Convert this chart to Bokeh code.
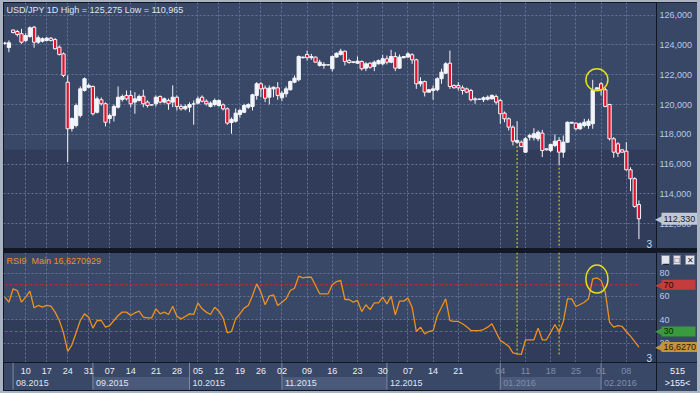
import numpy as np
from bokeh.plotting import figure
from bokeh.models import Range1d, FixedTicker, Label, BoxAnnotation, ColumnDataSource
from bokeh.layouts import column
from bokeh.embed import file_html
from bokeh.resources import INLINE
from bokeh.core.properties import value

FONT = "Liberation Sans"

# ---------------- data ----------------
symbol = "USD/JPY"
timeframe = "1D"
rsi_period = 9

open_ = [124.13, 123.83, 125.00, 124.90, 124.75, 124.30, 124.56, 125.19, 124.18, 124.25,
         124.30, 124.45, 124.36, 123.85, 123.40, 121.50, 118.39, 118.59, 119.26, 120.94,
         121.16, 121.21, 119.48, 120.32, 120.05, 119.06, 119.26, 119.82, 120.34, 120.61,
         120.61, 120.16, 120.27, 120.56, 120.16, 119.98, 120.05, 120.54, 120.16, 120.27,
         120.16, 120.49, 119.87, 119.71, 119.82, 120.04, 120.09, 120.49, 120.22, 119.87,
         120.00, 119.93, 119.98, 119.71, 118.79, 118.88, 119.33, 119.48, 119.82, 119.87,
         120.61, 121.39, 121.10, 120.49, 121.05, 121.12, 120.45, 120.72, 120.99, 121.50,
         121.66, 123.14, 123.36, 123.14, 123.18, 122.62, 122.62, 122.67, 122.40, 123.18,
         123.36, 123.58, 122.95, 122.87, 122.77, 122.89, 122.44, 122.77, 122.55, 122.73,
         122.73, 123.07, 122.84, 123.22, 122.44, 123.14, 123.18, 123.34, 123.00, 121.39,
         121.54, 120.83, 120.94, 120.99, 121.73, 122.10, 122.77, 121.28, 121.28, 121.12,
         121.05, 120.94, 120.38, 120.36, 120.32, 120.36, 120.38, 120.54, 120.27, 119.42,
         119.04, 118.48, 117.47, 117.47, 116.80, 117.81, 117.77, 117.70, 118.08, 117.03,
         116.91, 117.25, 117.59, 116.80, 117.47, 118.75, 118.75, 118.37, 118.59, 118.59,
         118.71, 121.03, 121.39, 120.99, 120.00, 117.70, 117.36, 116.96, 116.87, 115.62,
         115.02, 113.29]

high = [124.20, 124.30, 125.03, 125.01, 125.08, 124.79, 125.24, 125.275, 124.63, 124.50,
        124.53, 124.53, 124.46, 123.96, 123.49, 121.95, 119.13, 120.07, 121.21, 121.81,
        121.41, 121.28, 120.54, 120.47, 120.14, 119.40, 120.00, 121.21, 120.67, 120.94,
        120.94, 120.83, 120.67, 120.99, 120.27, 120.00, 120.61, 120.61, 120.47, 120.40,
        121.28, 120.61, 120.00, 120.00, 120.14, 120.27, 120.54, 120.61, 120.34, 120.20,
        120.40, 120.34, 120.07, 119.80, 119.13, 119.73, 119.71, 120.05, 120.09, 120.72,
        121.50, 121.50, 121.28, 121.28, 121.21, 121.50, 120.89, 121.21, 121.61, 121.95,
        123.29, 123.22, 123.62, 123.40, 123.22, 123.00, 122.84, 122.69, 123.29, 123.49,
        123.74, 123.62, 123.07, 122.89, 123.22, 122.95, 122.84, 122.84, 122.95, 123.02,
        123.34, 123.29, 123.67, 123.51, 123.36, 123.26, 123.51, 123.44, 123.07, 121.83,
        121.61, 121.05, 121.28, 121.83, 122.40, 122.84, 123.62, 121.34, 121.50, 121.28,
        121.14, 121.05, 120.49, 120.40, 120.54, 120.61, 120.67, 120.67, 120.38, 119.53,
        119.13, 118.59, 118.88, 117.59, 117.81, 118.04, 118.41, 118.26, 118.30, 117.05,
        117.36, 117.99, 117.81, 117.92, 118.86, 118.83, 118.79, 118.81, 119.04, 119.04,
        121.66, 121.14, 121.50, 121.12, 120.05, 117.81, 117.47, 117.00, 117.47, 115.79,
        115.12, 113.56]

low = [124.03, 123.51, 124.77, 124.56, 124.07, 124.18, 124.48, 123.81, 124.07, 124.16,
       124.23, 124.23, 123.69, 123.29, 121.83, 116.13, 118.19, 118.46, 119.13, 120.87,
       121.08, 119.26, 119.40, 119.93, 118.53, 118.73, 118.86, 119.73, 120.20, 120.27,
       119.82, 119.38, 120.20, 119.82, 119.80, 119.93, 119.87, 120.07, 120.07, 119.65,
       119.82, 119.60, 119.60, 119.60, 119.48, 118.64, 120.00, 120.14, 119.93, 119.80,
       119.87, 119.87, 119.60, 118.64, 118.04, 118.79, 119.11, 119.42, 119.71, 119.60,
       120.32, 120.49, 120.16, 120.00, 120.49, 120.32, 120.22, 120.49, 120.94, 121.43,
       121.56, 123.09, 122.95, 123.00, 122.82, 122.55, 122.40, 122.62, 122.22, 123.16,
       123.29, 122.62, 122.73, 122.77, 122.73, 122.28, 122.24, 122.40, 122.24, 122.69,
       122.62, 122.69, 122.77, 122.24, 122.40, 123.09, 123.14, 122.73, 121.05, 121.21,
       120.54, 120.79, 120.32, 120.89, 121.39, 122.06, 121.05, 121.08, 120.94, 120.67,
       120.76, 120.22, 120.05, 120.30, 120.16, 120.27, 120.34, 120.00, 118.71, 118.81,
       118.26, 117.25, 117.36, 117.14, 116.76, 117.59, 117.59, 117.54, 116.47, 116.91,
       116.80, 117.14, 115.91, 116.43, 117.45, 118.73, 118.26, 118.30, 118.46, 118.37,
       118.37, 121.01, 120.61, 119.82, 117.59, 116.43, 116.47, 116.78, 115.57, 114.18,
       113.07, 110.965]

close = [124.09, 124.14, 124.83, 124.70, 124.18, 124.63, 125.15, 124.18, 124.48, 124.41,
         124.45, 124.30, 123.74, 123.36, 121.95, 118.37, 119.06, 119.93, 121.05, 121.73,
         121.28, 119.38, 120.38, 120.05, 118.81, 119.26, 119.87, 120.49, 120.54, 120.38,
         120.05, 120.38, 120.54, 120.05, 119.93, 119.97, 120.49, 120.16, 120.38, 120.05,
         120.49, 119.87, 119.71, 119.87, 120.00, 120.03, 120.38, 120.22, 120.05, 120.09,
         120.27, 120.27, 119.71, 118.75, 119.00, 119.42, 119.60, 119.93, 120.00, 120.65,
         121.39, 121.05, 120.42, 121.10, 121.16, 120.61, 120.76, 121.05, 121.54, 121.77,
         123.22, 123.18, 123.14, 123.22, 122.84, 122.84, 122.69, 122.65, 123.22, 123.44,
         123.58, 122.89, 122.82, 122.82, 122.91, 122.40, 122.73, 122.50, 122.84, 122.95,
         123.07, 122.84, 123.22, 122.44, 123.18, 123.22, 123.40, 123.00, 121.39, 121.54,
         120.83, 120.99, 121.05, 121.73, 122.17, 122.73, 121.21, 121.12, 121.12, 120.94,
         120.83, 120.32, 120.32, 120.35, 120.45, 120.49, 120.61, 120.16, 119.38, 119.04,
         118.48, 117.54, 117.59, 117.18, 117.70, 117.92, 118.04, 118.14, 116.91, 116.96,
         117.32, 117.54, 116.80, 117.47, 118.81, 118.81, 118.37, 118.71, 118.81, 118.88,
         120.94, 121.12, 120.99, 119.87, 117.70, 116.80, 116.73, 116.80, 115.62, 115.02,
         113.16, 112.33]

rsi = [59.4, 55.1, 66.6, 65.1, 55.1, 59.4, 64.5, 50.3, 52.3, 50.8,
       52.3, 51.7, 46.6, 39.4, 28.9, 12.9, 18.6, 28.9, 39.4, 45.1,
       42.3, 32.9, 39.4, 39.4, 33.7, 35.1, 39.4, 43.7, 46.6, 46.6,
       43.7, 46.0, 47.4, 42.3, 41.7, 41.7, 49.4, 45.1, 46.6, 44.6,
       51.7, 43.1, 40.8, 42.8, 45.1, 44.6, 54.5, 49.4, 46.6, 44.6,
       50.8, 47.4, 41.7, 28.9, 30.0, 41.0, 45.0, 50.0, 52.3, 60.8,
       70.8, 63.7, 52.9, 60.3, 61.4, 52.3, 55.1, 58.0, 65.1, 67.1,
       77.4, 76.0, 76.5, 76.5, 69.4, 62.3, 62.3, 62.3, 70.0, 72.8,
       73.7, 57.4, 57.4, 55.1, 56.6, 47.1, 52.9, 48.8, 54.5, 54.5,
       59.4, 53.7, 60.3, 44.3, 56.0, 56.0, 58.6, 50.8, 30.0, 33.7,
       28.0, 30.0, 30.8, 43.7, 50.8, 58.0, 39.4, 38.6, 38.6, 36.6,
       34.0, 30.8, 30.8, 30.8, 31.7, 33.7, 36.6, 29.4, 22.3, 20.0,
       17.4, 11.7, 10.9, 10.3, 22.9, 22.9, 22.9, 32.9, 22.9, 22.9,
       29.4, 36.0, 29.4, 38.6, 58.0, 58.0, 51.4, 53.1, 55.1, 58.0,
       75.1, 76.0, 73.7, 63.7, 38.0, 33.7, 35.1, 34.3, 30.0, 26.0,
       21.4, 16.6270929]

price_ticks = [112, 114, 116, 118, 120, 122, 124, 126]
rsi_ticks = [20, 40, 60, 80]
rsi_levels = [70, 30]
day_idx = [5, 10, 15, 20, 25, 30, 36, 41, 46, 51, 56, 61, 66, 72, 78, 84, 90, 96,
           102, 108, 118, 124, 130, 136, 142, 148]
day_labels = ["10", "17", "24", "31", "07", "14", "21", "28", "05", "12", "19", "26",
              "02", "09", "16", "23", "30", "07", "14", "21", "04", "11", "18", "25",
              "01", "08"]
month_start = [2, 21, 44, 66, 91, 118, 142]
month_labels = ["08.2015", "09.2015", "10.2015", "11.2015", "12.2015", "01.2016", "02.2016"]
marked_lows = [122, 132]
circled_bar = 141
bars_total = 515
bars_visible = 155

# ---------------- styling / layout ----------------
BG = "#3a4868"
BG_DARK = "#303c59"
PANEL = "#394766"
EDGE = "#111722"
GRID = "#63749a"
AX_TXT = "#b6c9e6"
WHITE = "#f2f5fa"
RED = "#e3112c"
ORANGE = "#ee911e"
YELLOW = "#e4e01a"

N = len(close)
xs = list(range(N))
XR = Range1d(-0.286, 164.95)   # 4.2 px per bar over a 694 px frame
PANEL_X = 155.19               # where the price-scale column starts


def fmt(v, d=3):
    return f"{v:.{d}f}".replace(".", ",")


def make_fig(h, yr):
    f = figure(width=694, height=h, x_range=XR, y_range=yr, output_backend="svg",
               toolbar_location=None, x_axis_location=None, y_axis_location=None,
               min_border=0, background_fill_color=BG, border_fill_color=PANEL,
               outline_line_color=EDGE, outline_line_width=1)
    f.xgrid.ticker = FixedTicker(ticks=day_idx)
    for g in (f.xgrid, f.ygrid):
        g.grid_line_color = GRID
        g.grid_line_dash = "2 2"
        g.grid_line_width = 1
    return f


def scale_column(f, ticks, labels):
    yr = f.y_range
    f.quad(left=PANEL_X, right=XR.end, bottom=yr.start, top=yr.end,
           fill_color=PANEL, line_color=None)
    f.segment(x0=PANEL_X, x1=PANEL_X, y0=yr.start, y1=yr.end, line_color=EDGE, line_width=1)
    f.text(x=[PANEL_X] * len(ticks), y=ticks, text=labels, x_offset=3,
           text_font=value(FONT), text_font_size="9px", text_color=AX_TXT,
           text_align="left", text_baseline="middle")


def tag(f, yv, text, bg, fg, pad_right=14, pad_v=2):
    f.add_layout(Label(x=PANEL_X, y=yv, x_offset=-2, text="\u25c0", text_font_size="9px",
                       text_color=bg, text_baseline="middle", text_align="left"))
    f.add_layout(Label(x=PANEL_X, y=yv, x_offset=5, text=text, text_font=FONT,
                       text_font_size="9px", text_color=fg, text_baseline="middle",
                       text_align="left", background_fill_color=bg,
                       padding=dict(left=2, right=pad_right, top=pad_v, bottom=pad_v)))


# ---------------- main price panel ----------------
p = make_fig(246, Range1d(110.336, 126.846))
p.margin = (0, 0, 4, 0)
p.ygrid.ticker = FixedTicker(ticks=price_ticks)
p.add_layout(BoxAnnotation(top=116.98, fill_color=BG_DARK, fill_alpha=1,
                           line_color=None, level="image"))

top = [max(o, c) for o, c in zip(open_, close)]
bot = [min(o, c) for o, c in zip(open_, close)]
col = [WHITE if c >= o else RED for o, c in zip(open_, close)]
src = ColumnDataSource(dict(x=xs, high=high, low=low, top=top, bot=bot, col=col))
p.segment(x0="x", y0="high", x1="x", y1="low", source=src, line_color=WHITE, line_width=1)
p.vbar(x="x", width=0.78, top="top", bottom="bot", source=src, fill_color="col",
       line_color=WHITE, line_width=1)

p.segment(x0=marked_lows, x1=marked_lows, y0=[low[i] - 0.15 for i in marked_lows],
          y1=[p.y_range.start] * len(marked_lows), line_color=YELLOW, line_dash="2 2", line_width=1)
p.ellipse(x=[circled_bar], y=[max(high[circled_bar - 1:circled_bar + 2])], width=22, height=22,
          width_units="screen", height_units="screen", fill_color=None,
          line_color=YELLOW, line_width=1.5)

scale_column(p, price_ticks, [f"{t},000" for t in price_ticks])

title = f"{symbol} {timeframe} High = {fmt(max(high))} Low = {fmt(min(low))}"
p.add_layout(Label(x=XR.start, y=p.y_range.end, x_offset=3, y_offset=-2, text=title,
                   text_font=FONT, text_font_size="9px", text_color="#dde5f1",
                   text_baseline="top", text_align="left"))
p.add_layout(Label(x=PANEL_X, y=p.y_range.start, x_offset=-10, y_offset=1, text="3",
                   text_font=FONT, text_font_size="10px", text_color="#c9d9f2",
                   text_baseline="bottom", text_align="left"))
tag(p, close[-1], fmt(close[-1]), "#c3c9d3", "#1a2232", pad_right=6, pad_v=3)

# ---------------- RSI panel ----------------
r = make_fig(110, Range1d(3.43, 97.69))
r.ygrid.ticker = FixedTicker(ticks=rsi_ticks)
r.add_layout(BoxAnnotation(top=40.3, fill_color=BG_DARK, fill_alpha=1,
                           line_color=None, level="image"))
level_colors = ["#e41e1e", "#1f9a2a"]
for lv, lc in zip(rsi_levels, level_colors):
    r.line(x=[xs[0], xs[-1]], y=[lv, lv], line_color=lc, line_dash="3 2", line_width=1)
r.segment(x0=marked_lows, x1=marked_lows, y0=[r.y_range.end] * len(marked_lows),
          y1=[min(rsi)] * len(marked_lows), line_color=YELLOW, line_dash="2 2", line_width=1)
r.line(x=xs, y=rsi, line_color=ORANGE, line_width=1.3)
r.ellipse(x=[circled_bar], y=[float(np.mean(rsi[circled_bar - 1:circled_bar + 2]))],
          width=22, height=28, width_units="screen", height_units="screen",
          fill_color=None, line_color=YELLOW, line_width=1.5)

scale_column(r, rsi_ticks, [str(t) for t in rsi_ticks])

r.add_layout(Label(x=XR.start, y=r.y_range.end, x_offset=3, y_offset=-3,
                   text=f"RSI{rsi_period}\u00a0\u00a0Main {fmt(rsi[-1], 7)}",
                   text_font=FONT, text_font_size="9px", text_color=ORANGE,
                   text_baseline="top", text_align="left"))
r.add_layout(Label(x=PANEL_X, y=r.y_range.start, x_offset=-10, y_offset=1, text="3",
                   text_font=FONT, text_font_size="10px", text_color="#c9d9f2",
                   text_baseline="bottom", text_align="left"))
tag(r, rsi_levels[0], str(rsi_levels[0]), "#c43c3c", "#2a0808", pad_right=22)
tag(r, rsi_levels[1], str(rsi_levels[1]), "#3a9a3e", "#082a0a", pad_right=22)
tag(r, rsi[-1], fmt(rsi[-1], 7)[:7], "#c8923c", "#2a1a06", pad_right=4)
for k, sym in enumerate(["\u2581", "\u25a1", "\u2715"]):
    r.add_layout(Label(x=PANEL_X, y=r.y_range.end, x_offset=5 + 12 * k, y_offset=-3,
                       text=sym, text_font_size="8px", text_color="#1e2430",
                       text_baseline="top", text_align="left",
                       background_fill_color="#e2e6ec", border_line_color="#7d8797",
                       padding=dict(left=1, right=1, top=0, bottom=0)))

# ---------------- date strip ----------------
s = figure(width=694, height=29, x_range=XR, y_range=Range1d(0, 1), output_backend="svg",
           toolbar_location=None, x_axis_location=None, y_axis_location=None,
           min_border=0, background_fill_color=BG, border_fill_color=PANEL,
           outline_line_color=EDGE, outline_line_width=1)
s.xgrid.visible = False
s.ygrid.visible = False
dim_from = month_start[-2]
m_right = month_start[1:] + [PANEL_X]
m_fill = [BG if k % 2 == 0 else "#4b5a7b" for k in range(len(month_start))]
s.quad(left=month_start, right=m_right, top=0.5, bottom=0.06, fill_color=m_fill, line_color=None)
s.segment(x0=month_start, x1=month_start, y0=[0.06] * len(month_start), y1=[1] * len(month_start),
          line_color="#7c899f", line_width=1)
day_col = ["#e8eef7" if d < dim_from else "#7f8ea8" for d in day_idx]
s.text(x=day_idx, y=[0.7] * len(day_idx), text=day_labels, text_color=day_col,
       text_font=value(FONT), text_font_size="9px", text_align="center", text_baseline="middle")
mon_col = ["#dfe6f1" if m < dim_from else "#7f8ea8" for m in month_start]
s.text(x=month_start, y=[0.28] * len(month_start), text=month_labels, text_color=mon_col,
       x_offset=3, text_font=value(FONT), text_font_size="9px", text_align="left",
       text_baseline="middle")
s.quad(left=PANEL_X, right=XR.end, bottom=0, top=1, fill_color=PANEL, line_color=None)
s.segment(x0=PANEL_X, x1=PANEL_X, y0=0, y1=1, line_color=EDGE, line_width=1)
s.add_layout(Label(x=PANEL_X, y=0.7, x_offset=21, text=str(bars_total), text_font=FONT,
                   text_font_size="9px", text_color="#eef2f8", text_align="center",
                   text_baseline="middle"))
s.add_layout(Label(x=PANEL_X, y=0.28, x_offset=21, text=f">{bars_visible}<", text_font=FONT,
                   text_font_size="9px", text_color="#eef2f8", text_align="center",
                   text_baseline="middle"))

inner = column(p, r, s, margin=(2, 3, 2, 3), spacing=0,
               styles={"background-color": "#121824"})
outer = column(inner, spacing=0, styles={"background-color": "#aab3c2"})

open("out.html", "w").write(file_html(outer, INLINE))
